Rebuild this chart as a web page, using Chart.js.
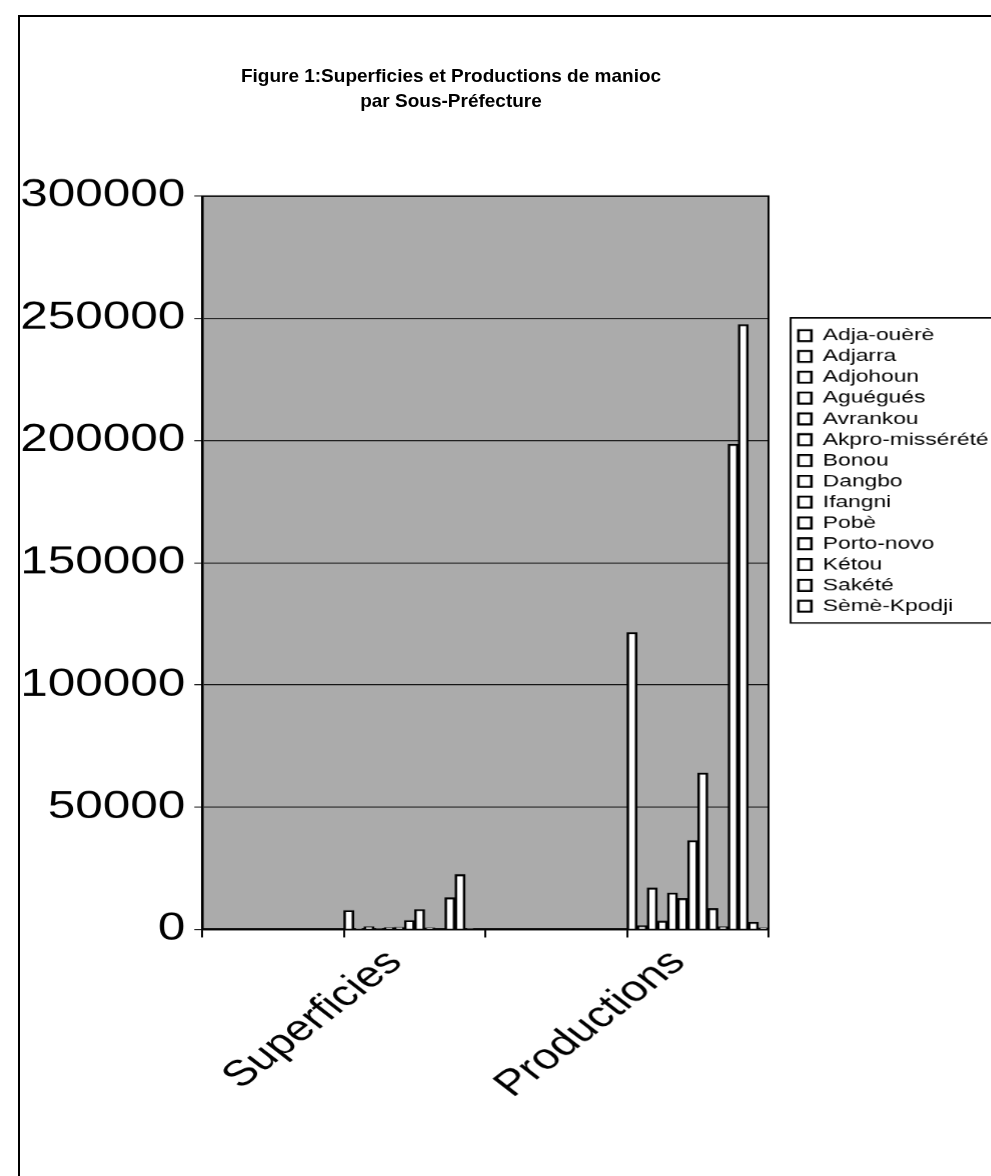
<!DOCTYPE html>
<html>
<head>
<meta charset="utf-8">
<script src="https://cdn.jsdelivr.net/npm/chart.js@4.4.1/dist/chart.umd.min.js"></script>
<style>
  html, body { margin: 0; padding: 0; background: #fff; }
  #page { position: absolute; left: 0; top: 0; width: 991px; height: 1176px; overflow: hidden; }
  #frame { position: absolute; left: 18px; top: 15px; width: 990px; height: 1170px; border-left: 2px solid #000; border-top: 2px solid #000; }
  #title { position: absolute; left: 0; top: 63px; width: 902px; text-align: center; font: bold 19px "Liberation Sans", Arial, sans-serif; line-height: 25px; color: #000; }
  #wrap { position: absolute; left: 0; top: 0; width: 762px; height: 1176px; transform: scaleX(1.3); transform-origin: 0 0; }
</style>
</head>
<body>
<div id="page">
  <div id="frame"></div>
  <div id="wrap"><canvas id="manioc" width="762" height="1176"></canvas></div>
  <div id="title">Figure 1:Superficies et Productions de manioc<br>par Sous-Préfecture</div>
</div>
<script>
// categories (two blank slots as in the original sheet)
var categories = ["", "Superficies", "", "Productions"];

var sousPrefectures = [
  "Adja-ouèrè", "Adjarra", "Adjohoun", "Aguégués", "Avrankou", "Akpro-missérété", "Bonou",
  "Dangbo", "Ifangni", "Pobè", "Porto-novo", "Kétou", "Sakété", "Sèmè-Kpodji"
];

// superficies (ha) and productions (t)
var superficies = [7800, 400, 1200, 300, 700, 900, 3700, 8200, 600, 200, 13000, 22500, 300, 100];
var productions = [121500, 1600, 17000, 3500, 15000, 12700, 36400, 64000, 8600, 1200, 198500, 247500, 3000, 600];

var yTicks = [0, 50000, 100000, 150000, 200000, 250000, 300000];

var FONT = "'Liberation Sans', Arial, sans-serif";
var plotRight = 590.8;
var legendWidth = 151.5;

var datasets = sousPrefectures.map(function (name, i) {
  return {
    label: name,
    data: [null, superficies[i], null, productions[i]],
    backgroundColor: "#ffffff",
    borderColor: "#000000",
    borderWidth: 2,
    categoryPercentage: 1.0,
    barPercentage: 1.0,
  };
});

// grey plot area, frame round it, and the box round the legend
const plotFrame = {
  id: "plotFrame",
  beforeDraw(chart) {
    const a = chart.chartArea;
    const ctx = chart.ctx;
    ctx.save();
    ctx.fillStyle = "#ababab";
    ctx.fillRect(a.left, a.top, a.right - a.left, a.bottom - a.top);
    ctx.restore();
  },
  afterDraw(chart) {
    const a = chart.chartArea;
    const ctx = chart.ctx;
    ctx.save();
    ctx.strokeStyle = "#000";
    ctx.lineWidth = 1.5;
    ctx.strokeRect(a.left, a.top, a.right - a.left, a.bottom - a.top);
    const boxes = chart.legend.legendHitBoxes;
    if (boxes && boxes.length) {
      const first = boxes[0];
      const last = boxes[boxes.length - 1];
      const top = first.top - 9;
      const bottom = last.top + last.height + 8;
      ctx.lineWidth = 1.5;
      ctx.strokeRect(first.left - 6, top, chart.width, bottom - top);
    }
    ctx.restore();
  },
};

Chart.defaults.color = "#000";

const config_manioc = {
  type: "bar",
  data: {
    labels: categories,
    datasets: datasets,
  },
  options: {
    responsive: false,
    devicePixelRatio: 1.3,
    animation: false,
    layout: {
      padding: { top: 196, left: 0, right: 0, bottom: 0 },
    },
    scales: {
      x: {
        grid: {
          display: true,
          drawOnChartArea: false,
          drawTicks: true,
          tickLength: 8,
          color: "#000",
          lineWidth: 1.5,
        },
        border: { display: true, color: "#000", width: 2 },
        ticks: {
          autoSkip: false,
          maxRotation: 45,
          minRotation: 45,
          padding: 4,
          labelOffset: -15,
          color: "#000",
          font: { family: FONT, size: 36 },
        },
        afterFit: function (s) {
          s.height = 247;
        },
      },
      y: {
        min: 0,
        max: 300000,
        grid: {
          color: "#000",
          lineWidth: 1,
          tickLength: 6,
          tickColor: "#000",
        },
        border: { display: true, color: "#000", width: 2 },
        ticks: {
          stepSize: 50000,
          padding: 7,
          color: "#000",
          font: { family: FONT, size: 38 },
          callback: function (v) {
            return yTicks.indexOf(v) >= 0 ? String(v) : "";
          },
        },
        afterFit: function (s) {
          s.width = 155.4;
        },
      },
      gap: {
        type: "linear",
        position: "right",
        display: true,
        grid: { display: false, drawTicks: false },
        ticks: { display: false },
        border: { display: false },
        afterFit: function (s) {
          s.width = Math.max(0, s.chart.width - plotRight - s.chart.legend.width);
        },
      },
    },
    plugins: {
      title: { display: false },
      tooltip: { enabled: false },
      legend: {
        display: true,
        position: "right",
        align: "start",
        maxWidth: legendWidth,
        title: {
          display: true,
          text: "",
          padding: { top: 113, bottom: 0 },
        },
        labels: {
          boxWidth: 10,
          boxHeight: 11,
          padding: 3.3,
          color: "#000",
          font: { family: FONT, size: 17.5 },
        },
      },
    },
  },
  plugins: [plotFrame],
};

const manioc = new Chart(document.getElementById("manioc"), config_manioc);
</script>
</body>
</html>
